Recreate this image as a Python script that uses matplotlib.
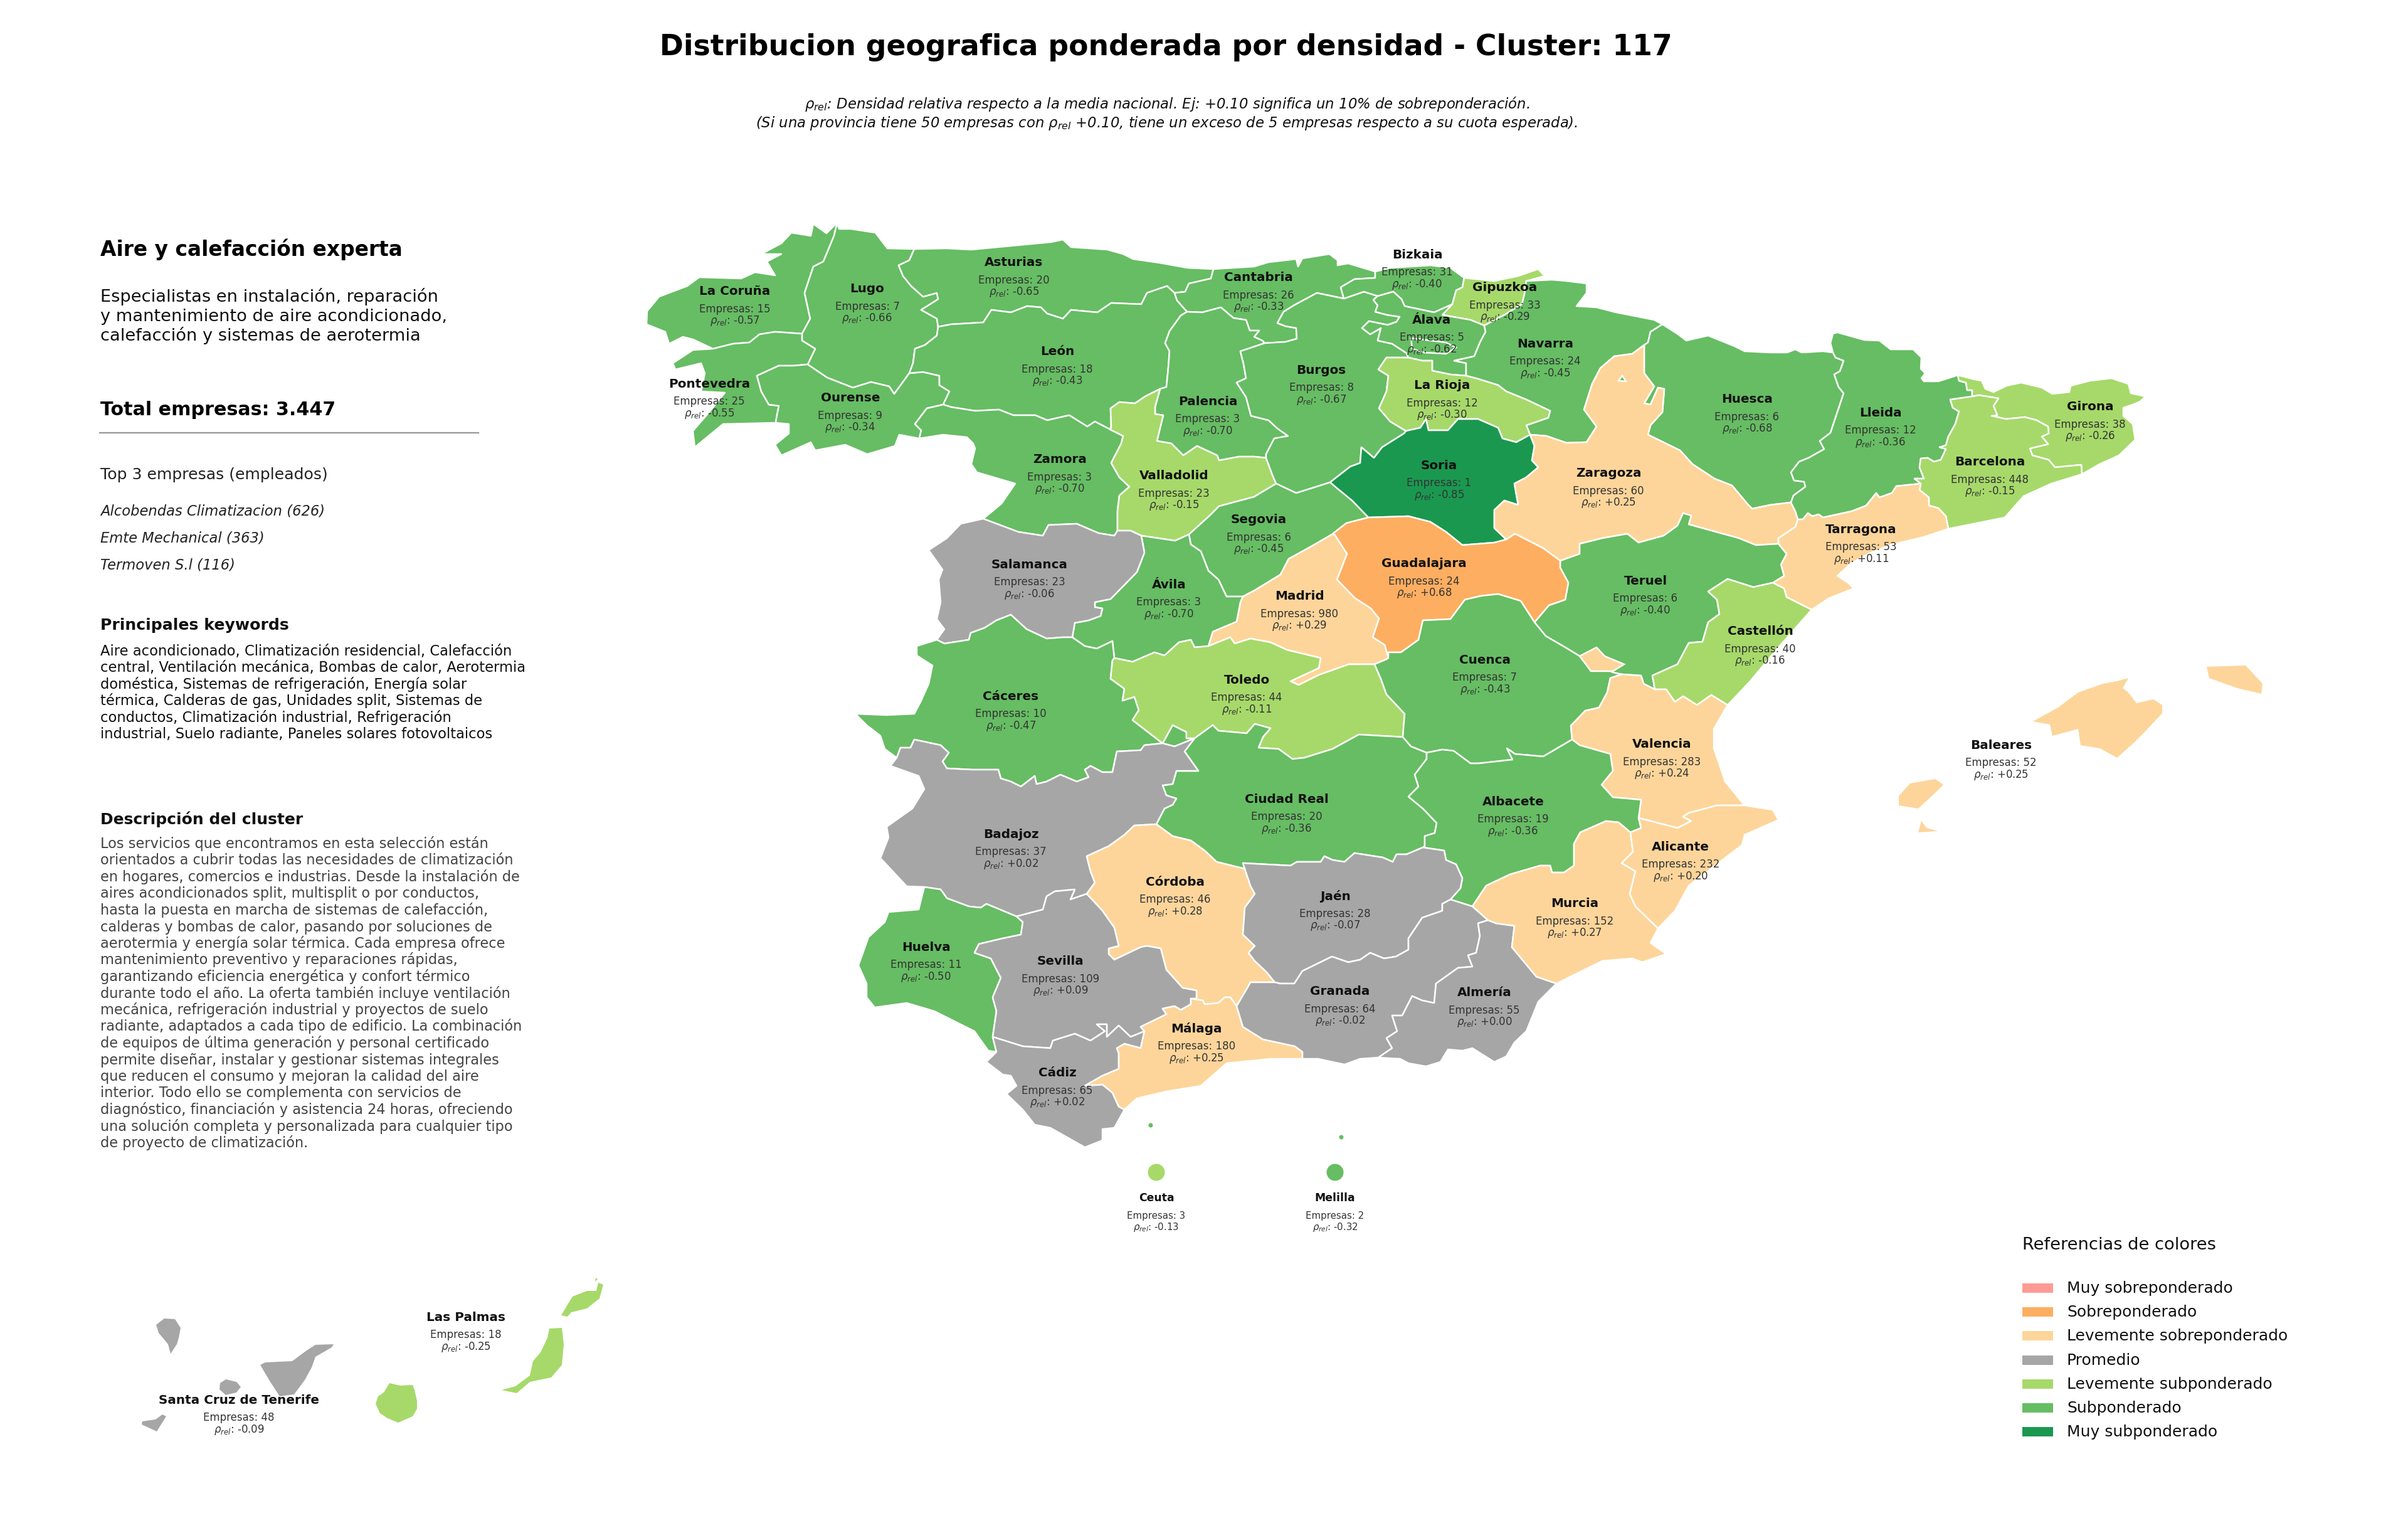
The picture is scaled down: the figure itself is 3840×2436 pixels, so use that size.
import matplotlib

matplotlib.use("Agg")
import matplotlib.pyplot as plt
from matplotlib.patches import Ellipse, Polygon, Rectangle

WIDTH, HEIGHT = 3840, 2436
DPI = 240

# province figures
PROVINCES = [
    "La Coruña", "Lugo", "Asturias", "Cantabria", "Bizkaia", "Gipuzkoa", "Álava", "Navarra",
    "León", "Pontevedra", "Ourense", "Palencia", "Burgos", "La Rioja", "Huesca", "Lleida",
    "Girona", "Barcelona", "Zamora", "Valladolid", "Soria", "Zaragoza", "Segovia",
    "Guadalajara", "Tarragona", "Salamanca", "Ávila", "Madrid", "Teruel", "Castellón",
    "Cáceres", "Toledo", "Cuenca", "Valencia", "Baleares", "Ciudad Real", "Badajoz",
    "Albacete", "Alicante", "Córdoba", "Jaén", "Murcia", "Huelva", "Sevilla", "Granada",
    "Almería", "Málaga", "Cádiz", "Las Palmas", "Santa Cruz de Tenerife", "Ceuta", "Melilla",
]
EMPRESAS = [
    15, 7, 20, 26, 31, 33, 5, 24, 18, 25, 9, 3, 8, 12, 6, 12, 38, 448, 3, 23, 1, 60, 6, 24,
    53, 23, 3, 980, 6, 40, 10, 44, 7, 283, 52, 20, 37, 19, 232, 46, 28, 152, 11, 109, 64,
    55, 180, 65, 18, 48, 3, 2,
]
RHO = [
    -0.57, -0.66, -0.65, -0.33, -0.40, -0.29, -0.62, -0.45, -0.43, -0.55, -0.34, -0.70,
    -0.67, -0.30, -0.68, -0.36, -0.26, -0.15, -0.70, -0.15, -0.85, 0.25, -0.45, 0.68, 0.11,
    -0.06, -0.70, 0.29, -0.40, -0.16, -0.47, -0.11, -0.43, 0.24, 0.25, -0.36, 0.02, -0.36,
    0.20, 0.28, -0.07, 0.27, -0.50, 0.09, -0.02, 0.00, 0.25, 0.02, -0.25, -0.09, -0.13,
    -0.32,
]
LABEL_XY = [
    (1172, 465), (1383, 461), (1617, 419), (2007, 443), (2260, 406), (2400, 459), (2283, 510),
    (2464, 548), (1686, 561), (1131, 612), (1356, 635), (1926, 640), (2107, 590), (2300, 615),
    (2786, 637), (2999, 658), (3333, 649), (3173, 737), (1690, 733), (1872, 759), (2295, 742),
    (2565, 755), (2007, 829), (2271, 899), (2968, 844), (1642, 900), (1864, 932), (2072, 951),
    (2624, 926), (2807, 1007), (1612, 1110), (1988, 1084), (2368, 1052), (2650, 1187),
    (3191, 1188), (2052, 1274), (1612, 1330), (2413, 1278), (2680, 1350), (1874, 1406),
    (2129, 1429), (2511, 1441), (1477, 1510), (1691, 1533), (2137, 1581), (2367, 1583),
    (1908, 1640), (1686, 1711), (743, 2100), (381, 2232), (1844, 1910), (2129, 1910),
]

LEGEND_LABELS = [
    "Muy sobreponderado", "Sobreponderado", "Levemente sobreponderado", "Promedio",
    "Levemente subponderado", "Subponderado", "Muy subponderado",
]
LEGEND_COLORS = ["#FF9A94", "#FDAE61", "#FDD59A", "#A6A6A6", "#A6D96A", "#66BD63", "#1A9850"]

SUBTITLE_LINES = [
    "Especialistas en instalación, reparación",
    "y mantenimiento de aire acondicionado,",
    "calefacción y sistemas de aerotermia",
]
TOP_EMPRESAS = ["Alcobendas Climatizacion (626)", "Emte Mechanical (363)", "Termoven S.l (116)"]
KEYWORD_LINES = [
    "Aire acondicionado, Climatización residencial, Calefacción",
    "central, Ventilación mecánica, Bombas de calor, Aerotermia",
    "doméstica, Sistemas de refrigeración, Energía solar",
    "térmica, Calderas de gas, Unidades split, Sistemas de",
    "conductos, Climatización industrial, Refrigeración",
    "industrial, Suelo radiante, Paneles solares fotovoltaicos",
]
DESCRIPTION_LINES = [
    "Los servicios que encontramos en esta selección están",
    "orientados a cubrir todas las necesidades de climatización",
    "en hogares, comercios e industrias. Desde la instalación de",
    "aires acondicionados split, multisplit o por conductos,",
    "hasta la puesta en marcha de sistemas de calefacción,",
    "calderas y bombas de calor, pasando por soluciones de",
    "aerotermia y energía solar térmica. Cada empresa ofrece",
    "mantenimiento preventivo y reparaciones rápidas,",
    "garantizando eficiencia energética y confort térmico",
    "durante todo el año. La oferta también incluye ventilación",
    "mecánica, refrigeración industrial y proyectos de suelo",
    "radiante, adaptados a cada tipo de edificio. La combinación",
    "de equipos de última generación y personal certificado",
    "permite diseñar, instalar y gestionar sistemas integrales",
    "que reducen el consumo y mejoran la calidad del aire",
    "interior. Todo ello se complementa con servicios de",
    "diagnóstico, financiación y asistencia 24 horas, ofreciendo",
    "una solución completa y personalizada para cualquier tipo",
    "de proyecto de climatización.",
]

# traced outlines, in pixels of the picture; shared borders are kept once
BORDERS = {
    "cor_coast": [(1335, 355), (1318, 372), (1297, 357), (1293, 376), (1262, 371), (1246, 388), (1214, 405), (1246, 405), (1223, 417), (1236, 439), (1204, 434), (1182, 444), (1115, 442), (1096, 456), (1051, 473), (1032, 496), (1031, 517), (1061, 529), (1067, 548), (1089, 537), (1105, 541), (1137, 556)],
    "cor_pon": [(1137, 556), (1169, 548), (1195, 546), (1211, 533), (1236, 529), (1279, 532)],
    "cor_lug": [(1279, 532), (1292, 508), (1283, 467), (1297, 425), (1313, 417), (1330, 376), (1335, 355)],
    "lug_coast": [(1335, 355), (1338, 365), (1357, 365), (1396, 371), (1415, 396), (1458, 397)],
    "ast_lug": [(1458, 397), (1450, 415), (1433, 423), (1440, 440), (1453, 456), (1472, 473), (1494, 467), (1496, 477), (1469, 494), (1494, 508), (1496, 521)],
    "lug_leo": [(1496, 521), (1494, 535), (1475, 550), (1459, 556), (1456, 579), (1450, 595)],
    "lug_our": [(1450, 595), (1426, 628), (1418, 616), (1389, 609), (1360, 618), (1319, 602), (1288, 581)],
    "lug_pon": [(1288, 581), (1300, 556), (1279, 543), (1279, 532)],
    "pon_our": [(1288, 581), (1265, 583), (1242, 583), (1207, 599), (1214, 624), (1226, 645), (1242, 647), (1239, 662), (1237, 674)],
    "pon_coast": [(1137, 556), (1105, 558), (1073, 579), (1077, 589), (1118, 579), (1124, 595), (1118, 624), (1156, 626), (1131, 657), (1105, 687), (1108, 713), (1153, 676), (1237, 674)],
    "our_coast": [(1237, 674), (1258, 676), (1258, 691), (1236, 709), (1246, 726), (1293, 705), (1300, 718), (1348, 709), (1383, 724), (1427, 711), (1434, 693), (1466, 699)],
    "our_leo": [(1450, 595), (1472, 593), (1498, 599), (1498, 614), (1514, 624), (1504, 645)],
    "our_zam": [(1504, 645), (1478, 651), (1459, 676), (1469, 686), (1466, 699)],
    "leo_zam": [(1504, 645), (1517, 649), (1555, 655), (1593, 653), (1616, 662), (1651, 662), (1670, 670), (1705, 662), (1734, 680), (1746, 672), (1769, 684)],
    "ast_coast": [(1458, 397), (1510, 396), (1549, 398), (1612, 392), (1676, 386), (1695, 382), (1708, 394), (1766, 398), (1791, 405), (1807, 413), (1849, 419), (1893, 427), (1935, 429)],
    "ast_can": [(1935, 429), (1931, 444), (1896, 452), (1890, 465), (1873, 467)],
    "ast_leo": [(1496, 521), (1517, 517), (1568, 514), (1581, 494), (1612, 498), (1638, 488), (1660, 490), (1670, 500), (1695, 508), (1708, 494), (1750, 498), (1772, 483), (1820, 485), (1829, 467), (1861, 456), (1873, 467)],
    "leo_can": [(1873, 467), (1877, 479), (1893, 497)],
    "leo_pal": [(1893, 497), (1883, 503), (1865, 528), (1858, 547), (1865, 560), (1863, 587), (1860, 617), (1850, 620)],
    "leo_val": [(1850, 620), (1826, 632), (1810, 643), (1785, 641), (1771, 651), (1772, 682), (1769, 684)],
    "pal_val": [(1850, 620), (1842, 649), (1842, 660), (1855, 662), (1845, 703), (1868, 707), (1887, 726), (1909, 711), (1941, 726), (1944, 734), (1976, 728), (2000, 728), (2019, 730)],
    "can_coast": [(1935, 429), (1967, 427), (2000, 425), (2023, 418), (2067, 413), (2070, 425), (2077, 412), (2120, 405), (2133, 415), (2133, 423), (2150, 420), (2193, 433)],
    "can_biz": [(2193, 433), (2193, 443), (2160, 445), (2138, 458), (2143, 476)],
    "can_pal": [(1893, 497), (1917, 498), (1947, 490), (1967, 507), (1987, 510), (1993, 527), (2008, 527), (2000, 537), (2013, 543), (2017, 547)],
    "can_bur": [(2017, 547), (2050, 545), (2068, 540), (2067, 523), (2050, 520), (2037, 515), (2047, 497), (2063, 487), (2100, 467), (2143, 476)],
    "pal_bur": [(2017, 547), (1978, 560), (1983, 580), (1987, 603), (1972, 610), (1987, 633), (1995, 663), (2023, 670), (2037, 683), (2054, 695), (2032, 699), (2019, 724), (2019, 730)],
    "val_bur": [(2019, 730), (2029, 757), (2035, 771)],
    "val_seg": [(2035, 771), (2000, 792), (1944, 807), (1928, 823), (1896, 852)],
    "val_avi": [(1896, 852), (1874, 862), (1820, 854)],
    "val_sal": [(1820, 854), (1803, 846), (1782, 846)],
    "val_zam": [(1782, 846), (1782, 815), (1785, 790), (1801, 776), (1785, 761), (1772, 738), (1788, 707), (1791, 695), (1769, 684)],
    "zam_sal": [(1782, 846), (1777, 854), (1752, 850), (1717, 835), (1672, 837), (1663, 854), (1624, 848), (1568, 827)],
    "zam_port": [(1466, 699), (1504, 693), (1542, 697), (1552, 707), (1555, 715), (1549, 740), (1558, 753), (1619, 771), (1597, 803), (1568, 827)],
    "bur_biz": [(2143, 476), (2175, 465), (2197, 472)],
    "biz_coast": [(2193, 433), (2217, 427), (2281, 423), (2313, 427), (2335, 443)],
    "biz_gip": [(2335, 443), (2332, 458), (2322, 463), (2316, 485)],
    "biz_ala": [(2197, 472), (2222, 465), (2235, 477), (2240, 488), (2287, 498), (2316, 485)],
    "gip_ala": [(2316, 485), (2300, 502), (2345, 510), (2367, 519)],
    "gip_nav": [(2367, 519), (2399, 502), (2427, 485), (2431, 469), (2434, 448)],
    "gip_coast": [(2335, 443), (2383, 448), (2421, 440), (2453, 429), (2463, 440), (2434, 448)],
    "ala_nav": [(2367, 519), (2369, 529), (2360, 546), (2351, 568), (2319, 575), (2338, 579), (2338, 599)],
    "ala_rio": [(2338, 599), (2313, 597), (2284, 591), (2284, 575), (2268, 575), (2246, 570)],
    "bur_ala": [(2197, 472), (2190, 478), (2197, 487), (2193, 497), (2212, 502), (2232, 505), (2227, 513), (2213, 518), (2183, 512), (2172, 523), (2185, 533), (2202, 523), (2197, 543), (2220, 548), (2243, 563), (2246, 570)],
    "bur_rio": [(2246, 570), (2211, 570), (2198, 589), (2214, 599), (2211, 624), (2199, 651), (2217, 672), (2242, 687)],
    "rio_nav": [(2338, 599), (2357, 604), (2389, 614), (2402, 624), (2434, 637), (2472, 655), (2469, 666), (2434, 678), (2440, 693)],
    "rio_sor": [(2242, 687), (2265, 682), (2274, 668), (2278, 686), (2309, 686), (2325, 668), (2357, 668), (2389, 682), (2396, 699), (2418, 705), (2440, 693)],
    "nav_zar": [(2440, 693), (2466, 695), (2498, 706), (2530, 705), (2546, 680), (2526, 653), (2539, 612), (2552, 587), (2574, 568), (2603, 564), (2622, 550)],
    "nav_hue": [(2622, 550), (2628, 546), (2632, 529), (2651, 517)],
    "nav_coast": [(2434, 448), (2475, 446), (2498, 448), (2530, 452), (2530, 467), (2514, 488), (2546, 490), (2577, 498), (2638, 510), (2651, 517)],
    "hue_coast": [(2651, 517), (2676, 533), (2689, 543), (2724, 535), (2766, 552), (2782, 560), (2823, 562), (2850, 562), (2863, 557), (2873, 562), (2907, 560), (2923, 562)],
    "hue_lle": [(2923, 562), (2927, 570), (2940, 575), (2934, 592), (2925, 597), (2932, 617), (2940, 627), (2929, 660), (2919, 690), (2902, 703), (2909, 716), (2884, 730), (2869, 736), (2856, 753), (2861, 766), (2877, 768), (2879, 776), (2860, 790), (2856, 801)],
    "hue_zar": [(2856, 801), (2823, 805), (2794, 811), (2788, 805), (2762, 774), (2734, 763), (2699, 740), (2679, 718), (2628, 693), (2632, 678), (2651, 657), (2654, 620), (2644, 618), (2632, 645), (2622, 643), (2638, 616), (2622, 595), (2622, 550)],
    "bur_seg": [(2035, 771), (2067, 786), (2080, 782), (2121, 769)],
    "bur_sor": [(2121, 769), (2153, 744), (2169, 738), (2171, 713), (2191, 730), (2204, 713), (2239, 691), (2242, 687)],
    "sor_zar": [(2440, 693), (2447, 711), (2443, 734), (2453, 745), (2434, 761), (2415, 771), (2421, 805), (2399, 798), (2383, 813), (2383, 842), (2402, 860)],
    "sor_gua": [(2402, 860), (2383, 865), (2332, 869), (2306, 848), (2281, 832), (2246, 823), (2182, 825)],
    "sor_seg": [(2182, 825), (2156, 798), (2134, 780), (2121, 769)],
    "seg_gua": [(2182, 825), (2147, 834), (2124, 852)],
    "seg_mad": [(2124, 852), (2093, 870), (2055, 891), (2042, 916), (2001, 941), (1982, 951)],
    "seg_avi": [(1982, 951), (1956, 951), (1943, 924), (1927, 910), (1915, 879), (1899, 868), (1896, 852)],
    "avi_sal": [(1820, 854), (1825, 881), (1813, 912), (1771, 955), (1746, 960), (1746, 968), (1758, 970), (1755, 982), (1736, 989), (1714, 993), (1710, 1016)],
    "avi_cac": [(1710, 1016), (1730, 1030), (1749, 1034), (1774, 1022), (1777, 1049)],
    "avi_tol": [(1777, 1049), (1806, 1055), (1841, 1040), (1857, 1045), (1880, 1024), (1899, 1020), (1905, 1032), (1927, 1030)],
    "avi_mad": [(1927, 1030), (1934, 1007), (1972, 991), (1978, 960), (1982, 951)],
    "sal_cac": [(1710, 1016), (1695, 1016), (1669, 1018), (1637, 1003), (1612, 980), (1589, 989), (1570, 1001), (1548, 1009), (1545, 1020), (1519, 1024), (1506, 1026), (1494, 1020)],
    "sal_port": [(1494, 1020), (1506, 1003), (1494, 987), (1500, 960), (1497, 924), (1503, 908), (1481, 877), (1510, 858), (1532, 835), (1568, 827)],
    "mad_tol": [(1927, 1030), (1962, 1016), (1969, 1026), (1994, 1018), (2026, 1024), (2052, 1036), (2106, 1049), (2103, 1065), (2058, 1086), (2071, 1092), (2103, 1076), (2151, 1059), (2192, 1059)],
    "mad_cue": [(2192, 1059), (2211, 1051), (2214, 1049)],
    "mad_gua": [(2214, 1049), (2208, 1028), (2189, 1016), (2199, 986), (2186, 970), (2160, 953), (2132, 924), (2148, 883), (2128, 852), (2124, 852)],
    "gua_cue": [(2214, 1049), (2214, 1040), (2234, 1040), (2262, 1020), (2269, 989), (2313, 987), (2336, 956), (2362, 950), (2389, 947), (2425, 958), (2447, 992)],
    "gua_ter": [(2447, 992), (2470, 965), (2496, 956), (2501, 929), (2488, 905), (2488, 894)],
    "gua_zar": [(2488, 894), (2461, 874), (2416, 851), (2402, 860)],
    "zar_ter": [(2488, 894), (2519, 883), (2519, 867), (2555, 858), (2595, 851), (2613, 865), (2653, 854), (2675, 838), (2684, 818), (2697, 822), (2693, 836), (2773, 858), (2800, 869), (2836, 867)],
    "zar_tar": [(2836, 867), (2836, 858), (2863, 840), (2867, 828)],
    "zar_lle": [(2856, 801), (2863, 815), (2867, 828)],
    "ter_tar": [(2836, 867), (2849, 883), (2840, 900), (2845, 918), (2827, 929)],
    "tar_cas": [(2827, 929), (2845, 938), (2849, 952), (2889, 972)],
    "tar_coast": [(2889, 972), (2916, 954), (2956, 938), (2947, 929), (2930, 918), (2952, 898), (2979, 883), (3014, 869), (3068, 856), (3107, 843)],
    "tar_bar": [(3107, 843), (3103, 823), (3091, 810), (3076, 806), (3076, 793), (3061, 781), (3063, 771)],
    "tar_lle": [(3063, 771), (3024, 775), (3017, 786), (2997, 793), (2992, 786), (2976, 806), (2953, 815), (2907, 825), (2900, 820), (2890, 823), (2883, 818), (2875, 828), (2867, 828)],
    "lle_coast": [(2923, 562), (2919, 547), (2923, 532), (2930, 530), (2973, 542), (2997, 543), (3015, 557), (3051, 557), (3064, 570), (3063, 588), (3070, 595), (3064, 603), (3068, 608), (3091, 608), (3110, 602), (3122, 598)],
    "lle_gir": [(3122, 598), (3124, 607), (3135, 610), (3137, 622), (3145, 622), (3145, 632)],
    "lle_bar": [(3145, 632), (3110, 637), (3114, 650), (3124, 656), (3118, 676), (3107, 696), (3103, 710), (3093, 713), (3103, 716), (3095, 733), (3084, 736), (3074, 730), (3063, 731), (3061, 745), (3068, 763), (3053, 763), (3063, 771)],
    "bar_gir": [(3145, 632), (3156, 630), (3187, 635), (3179, 647), (3185, 662), (3176, 663), (3199, 668), (3229, 665), (3248, 670), (3266, 680), (3267, 691), (3256, 696), (3266, 708), (3237, 715), (3241, 726), (3267, 733), (3277, 745), (3319, 741), (3320, 756)],
    "bar_coast": [(3320, 756), (3271, 771), (3227, 791), (3197, 825), (3107, 843)],
    "gir_coast": [(3122, 598), (3149, 605), (3160, 607), (3166, 620), (3179, 625), (3200, 615), (3223, 610), (3256, 618), (3273, 628), (3300, 625), (3302, 615), (3333, 607), (3367, 603), (3394, 612), (3398, 627), (3421, 632), (3413, 640), (3401, 645), (3386, 650), (3386, 663), (3401, 676), (3405, 701), (3379, 726), (3348, 740), (3320, 756)],
    "ter_cas": [(2827, 929), (2796, 936), (2755, 923), (2724, 943), (2738, 956), (2742, 979), (2724, 992), (2715, 1023), (2693, 1025), (2675, 1059), (2635, 1077), (2639, 1099)],
    "ter_val": [(2639, 1099), (2621, 1090), (2617, 1077), (2586, 1075)],
    "ter_cue": [(2447, 992), (2465, 1014), (2496, 1032), (2519, 1046), (2572, 1072), (2586, 1075)],
    "cue_val": [(2586, 1075), (2568, 1081), (2563, 1104), (2550, 1128), (2528, 1133), (2505, 1157), (2507, 1179)],
    "cue_alb": [(2507, 1179), (2461, 1206), (2416, 1202), (2403, 1193), (2412, 1211), (2358, 1217), (2345, 1217), (2318, 1197), (2300, 1195), (2275, 1200)],
    "cue_tol": [(2192, 1059), (2202, 1082), (2211, 1107), (2240, 1138), (2237, 1175)],
    "cue_cr": [(2237, 1175), (2250, 1190), (2275, 1200)],
    "tol_cr": [(2237, 1175), (2167, 1171), (2125, 1194), (2080, 1208), (2061, 1210), (2039, 1194), (2007, 1192), (2014, 1175), (2026, 1161), (2001, 1154), (1988, 1169), (1943, 1165), (1934, 1156), (1905, 1177)],
    "tol_cac": [(1777, 1049), (1774, 1053), (1771, 1082), (1793, 1098), (1790, 1117), (1809, 1111), (1816, 1132), (1806, 1148), (1854, 1185), (1870, 1156), (1892, 1167), (1892, 1177), (1905, 1177)],
    "cac_bad": [(1905, 1177), (1873, 1190), (1854, 1185), (1825, 1188), (1819, 1196), (1781, 1198), (1774, 1231), (1758, 1231), (1739, 1221), (1730, 1227), (1736, 1239), (1717, 1246), (1691, 1235), (1669, 1246), (1653, 1250), (1650, 1237), (1628, 1254), (1612, 1246), (1596, 1241), (1592, 1227), (1551, 1227), (1510, 1225), (1503, 1214), (1513, 1200), (1500, 1188), (1458, 1179), (1452, 1192), (1436, 1192), (1430, 1208)],
    "cac_port": [(1494, 1020), (1462, 1030), (1462, 1045), (1487, 1061), (1481, 1090), (1468, 1119), (1458, 1138), (1414, 1140), (1364, 1138), (1382, 1156), (1404, 1173), (1411, 1194), (1430, 1208)],
    "bad_port": [(1430, 1208), (1420, 1221), (1465, 1237), (1474, 1258), (1455, 1289), (1414, 1318), (1417, 1335), (1404, 1368), (1446, 1413), (1474, 1414)],
    "bad_cr": [(1905, 1177), (1889, 1198), (1911, 1229), (1876, 1229), (1870, 1250), (1854, 1252), (1860, 1268), (1876, 1273), (1870, 1283), (1857, 1289), (1844, 1314)],
    "bad_cor": [(1844, 1314), (1809, 1316), (1793, 1331), (1768, 1349), (1733, 1365), (1739, 1389), (1746, 1407), (1733, 1425)],
    "bad_sev": [(1733, 1425), (1707, 1434), (1714, 1418), (1682, 1421), (1669, 1429), (1663, 1450), (1621, 1461)],
    "bad_hue": [(1621, 1461), (1573, 1441), (1564, 1447), (1545, 1445), (1510, 1432), (1500, 1418), (1474, 1414)],
    "hue_port": [(1474, 1414), (1465, 1450), (1417, 1454), (1411, 1470), (1385, 1494), (1369, 1539), (1382, 1568), (1382, 1590), (1395, 1606), (1446, 1599), (1490, 1612), (1554, 1644), (1576, 1675), (1589, 1677)],
    "hue_sev": [(1621, 1461), (1631, 1470), (1628, 1490), (1599, 1496), (1561, 1505), (1554, 1519), (1580, 1528), (1596, 1559), (1583, 1590), (1589, 1612), (1583, 1653)],
    "hue_cad": [(1583, 1653), (1589, 1677)],
    "sev_cad": [(1583, 1653), (1631, 1668), (1675, 1671), (1679, 1659), (1714, 1648), (1739, 1659), (1762, 1644), (1749, 1633), (1765, 1633), (1765, 1653), (1784, 1635), (1803, 1653), (1825, 1644)],
    "sev_mal": [(1825, 1644), (1819, 1637), (1860, 1617), (1854, 1608), (1873, 1604), (1883, 1610), (1899, 1601), (1899, 1592)],
    "sev_cor": [(1733, 1425), (1758, 1452), (1777, 1479), (1784, 1508), (1768, 1512), (1768, 1521), (1777, 1530), (1819, 1510), (1829, 1508), (1851, 1512), (1860, 1546), (1886, 1575), (1908, 1579), (1908, 1592), (1899, 1592)],
    "cor_mal": [(1899, 1592), (1918, 1595), (1921, 1601), (1943, 1599), (1953, 1590), (1962, 1590), (1972, 1604)],
    "cor_gra": [(1972, 1604), (1988, 1577), (1994, 1566), (2033, 1566)],
    "cor_jae": [(2033, 1566), (2020, 1550), (2001, 1532), (1991, 1519), (2001, 1508), (1982, 1490), (1985, 1447), (2001, 1425), (1994, 1412), (1985, 1385)],
    "cor_cr": [(1844, 1314), (1870, 1333), (1899, 1340), (1921, 1356), (1940, 1374), (1985, 1385)],
    "jae_cr": [(1985, 1385), (1982, 1376), (2058, 1380), (2068, 1374), (2106, 1374), (2112, 1365), (2125, 1371), (2144, 1374), (2160, 1360), (2205, 1367), (2221, 1374), (2227, 1362), (2243, 1362), (2269, 1351)],
    "jae_alb": [(2269, 1351), (2303, 1356), (2306, 1371), (2322, 1378), (2332, 1400), (2329, 1416), (2313, 1434)],
    "alb_gra": [(2313, 1434), (2348, 1445)],
    "jae_gra": [(2313, 1434), (2300, 1441), (2300, 1452), (2268, 1463), (2246, 1496), (2246, 1514), (2226, 1525), (2207, 1528), (2185, 1519), (2169, 1530), (2150, 1534), (2124, 1525), (2077, 1548), (2064, 1568), (2041, 1568), (2033, 1566)],
    "gra_mal": [(1972, 1604), (1982, 1637), (2014, 1657), (2065, 1668), (2077, 1677), (2077, 1688)],
    "mal_coast": [(2077, 1688), (2026, 1688), (1956, 1695), (1915, 1731), (1860, 1740), (1813, 1751), (1793, 1769)],
    "mal_cad": [(1793, 1769), (1784, 1764), (1774, 1742), (1758, 1729), (1730, 1731), (1758, 1715), (1784, 1704), (1784, 1679), (1781, 1671), (1793, 1664), (1819, 1671), (1825, 1644)],
    "cad_coast": [(1589, 1677), (1573, 1693), (1599, 1713), (1612, 1715), (1621, 1731), (1605, 1744), (1631, 1769), (1650, 1793), (1675, 1798), (1730, 1829), (1758, 1818), (1758, 1800), (1777, 1798), (1793, 1769)],
    "gra_coast": [(2077, 1688), (2102, 1688), (2144, 1697), (2169, 1688), (2198, 1686)],
    "gra_alm": [(2198, 1686), (2220, 1671), (2211, 1655), (2228, 1644), (2220, 1619), (2236, 1619), (2252, 1588), (2268, 1595), (2287, 1599), (2290, 1568), (2325, 1543), (2348, 1541), (2341, 1523), (2354, 1519), (2360, 1492), (2357, 1472), (2373, 1467)],
    "gra_mur": [(2373, 1467), (2348, 1445)],
    "alm_mur": [(2373, 1467), (2386, 1472), (2415, 1476), (2411, 1510), (2450, 1557), (2482, 1568)],
    "alm_coast": [(2482, 1568), (2453, 1597), (2434, 1644), (2415, 1662), (2402, 1684), (2383, 1693), (2348, 1671), (2332, 1675), (2309, 1673), (2297, 1693), (2274, 1700), (2246, 1695), (2233, 1688), (2198, 1686)],
    "mur_alb": [(2348, 1445), (2370, 1412), (2408, 1394), (2456, 1380), (2472, 1380), (2475, 1391), (2494, 1391), (2510, 1380), (2510, 1345), (2520, 1327), (2561, 1309), (2581, 1311), (2600, 1327)],
    "alb_ali": [(2600, 1327), (2617, 1320), (2613, 1304)],
    "alb_val": [(2613, 1304), (2617, 1275), (2572, 1271), (2554, 1251), (2572, 1229), (2568, 1202), (2519, 1188), (2507, 1179)],
    "val_ali": [(2613, 1304), (2675, 1320), (2697, 1309), (2684, 1302), (2693, 1296), (2738, 1284), (2782, 1284)],
    "val_coast": [(2782, 1284), (2751, 1246), (2733, 1193), (2733, 1162), (2755, 1124)],
    "val_cas": [(2755, 1124), (2729, 1108), (2706, 1124), (2684, 1110), (2671, 1119), (2657, 1099), (2639, 1099)],
    "cas_coast": [(2755, 1124), (2791, 1086), (2836, 1032), (2889, 972)],
    "ali_coast": [(2782, 1284), (2827, 1291), (2836, 1307), (2782, 1331), (2778, 1347), (2693, 1412), (2671, 1452), (2644, 1480)],
    "ali_mur": [(2600, 1327), (2604, 1358), (2586, 1376), (2608, 1389), (2599, 1425), (2608, 1445), (2644, 1480)],
    "mur_coast": [(2644, 1480), (2632, 1503), (2657, 1521), (2619, 1534), (2603, 1528), (2555, 1532), (2514, 1552), (2482, 1568)],
    "alb_cr": [(2275, 1200), (2275, 1210), (2256, 1235), (2262, 1254), (2246, 1270), (2269, 1289), (2291, 1312), (2288, 1328), (2272, 1333), (2272, 1349), (2269, 1351)],
}

RINGS = {
    "La Coruña": ["cor_coast", "cor_pon", "cor_lug"],
    "Lugo": ["lug_coast", "ast_lug", "lug_leo", "lug_our", "lug_pon", "cor_lug"],
    "Pontevedra": ["pon_coast", "pon_our", "lug_pon", "cor_pon"],
    "Ourense": ["our_coast", "our_zam", "our_leo", "lug_our", "pon_our"],
    "Asturias": ["ast_coast", "ast_can", "ast_leo", "ast_lug"],
    "León": ["ast_leo", "leo_can", "leo_pal", "leo_val", "leo_zam", "our_leo", "lug_leo"],
    "Zamora": ["leo_zam", "val_zam", "zam_sal", "zam_port", "our_zam"],
    "Cantabria": ["can_coast", "can_biz", "can_bur", "can_pal", "leo_can", "ast_can"],
    "Palencia": ["can_pal", "pal_bur", "pal_val", "leo_pal"],
    "Valladolid": ["pal_val", "val_bur", "val_seg", "val_avi", "val_sal", "val_zam", "leo_val"],
    "Burgos": ["can_bur", "bur_biz", "bur_ala", "bur_rio", "bur_sor", "bur_seg", "val_bur", "pal_bur"],
    "Bizkaia": ["biz_coast", "biz_gip", "biz_ala", "bur_biz", "can_biz"],
    "Gipuzkoa": ["gip_coast", "gip_nav", "gip_ala", "biz_gip"],
    "Álava": ["biz_ala", "gip_ala", "ala_nav", "ala_rio", "bur_ala"],
    "Navarra": ["nav_coast", "nav_hue", "nav_zar", "rio_nav", "ala_nav", "gip_nav"],
    "La Rioja": ["ala_rio", "bur_rio", "rio_sor", "rio_nav"],
    "Soria": ["rio_sor", "sor_zar", "sor_gua", "sor_seg", "bur_sor"],
    "Segovia": ["bur_seg", "sor_seg", "seg_gua", "seg_mad", "seg_avi", "val_seg"],
    "Huesca": ["hue_coast", "hue_lle", "hue_zar", "nav_hue"],
    "Zaragoza": ["nav_zar", "hue_zar", "zar_lle", "zar_tar", "zar_ter", "gua_zar", "sor_zar"],
    "Lleida": ["lle_coast", "lle_gir", "lle_bar", "tar_lle", "zar_lle", "hue_lle"],
    "Girona": ["gir_coast", "bar_gir", "lle_gir"],
    "Barcelona": ["bar_gir", "bar_coast", "tar_bar", "lle_bar"],
    "Tarragona": ["tar_lle", "zar_tar", "ter_tar", "tar_cas", "tar_coast", "tar_bar"],
    "Teruel": ["zar_ter", "ter_tar", "ter_cas", "ter_val", "ter_cue", "gua_ter"],
    "Castellón": ["ter_cas", "tar_cas", "cas_coast", "val_cas"],
    "Guadalajara": ["sor_gua", "seg_gua", "mad_gua", "gua_cue", "gua_ter", "gua_zar"],
    "Madrid": ["seg_mad", "avi_mad", "mad_tol", "mad_cue", "mad_gua"],
    "Ávila": ["seg_avi", "val_avi", "avi_sal", "avi_cac", "avi_tol", "avi_mad"],
    "Salamanca": ["zam_sal", "sal_port", "sal_cac", "avi_sal", "val_sal"],
    "Cáceres": ["sal_cac", "cac_port", "cac_bad", "tol_cac", "avi_cac"],
    "Toledo": ["avi_tol", "mad_tol", "cue_tol", "tol_cr", "tol_cac"],
    "Cuenca": ["gua_cue", "ter_cue", "cue_val", "cue_alb", "cue_cr", "cue_tol", "mad_cue"],
    "Valencia": ["val_ali", "val_coast", "val_cas", "ter_val", "cue_val", "alb_val"],
    "Ciudad Real": ["tol_cr", "cue_cr", "alb_cr", "jae_cr", "cor_cr", "bad_cr"],
    "Badajoz": ["cac_bad", "bad_port", "bad_hue", "bad_sev", "bad_cor", "bad_cr"],
    "Albacete": ["cue_alb", "alb_cr", "jae_alb", "alb_gra", "mur_alb", "alb_ali", "alb_val"],
    "Córdoba": ["bad_cor", "cor_cr", "cor_jae", "cor_gra", "cor_mal", "sev_cor"],
    "Jaén": ["jae_cr", "jae_alb", "jae_gra", "cor_jae"],
    "Huelva": ["bad_hue", "hue_sev", "hue_cad", "hue_port"],
    "Sevilla": ["bad_sev", "sev_cor", "sev_mal", "sev_cad", "hue_sev"],
    "Cádiz": ["sev_cad", "mal_cad", "cad_coast", "hue_cad"],
    "Málaga": ["cor_mal", "gra_mal", "mal_coast", "mal_cad", "sev_mal"],
    "Granada": ["cor_gra", "jae_gra", "alb_gra", "gra_mur", "gra_alm", "gra_coast", "gra_mal"],
    "Almería": ["gra_alm", "alm_mur", "alm_coast"],
    "Murcia": ["mur_alb", "ali_mur", "mur_coast", "alm_mur", "gra_mur"],
    "Alicante": ["val_ali", "ali_coast", "ali_mur", "alb_ali"],
}

# islands and enclaves, drawn on top of the rings
EXTRA_SHAPES = {
    "Valencia": [[(2519, 1046), (2546, 1032), (2559, 1046), (2590, 1059), (2572, 1070), (2537, 1070)]],
    "Navarra": [[(2587, 599), (2593, 608), (2581, 607)]],
    "Burgos": [[(2250, 539), (2306, 546), (2322, 554), (2306, 564), (2271, 562), (2252, 556)]],
    "Baleares": [
        [(3394, 1081), (3385, 1097), (3394, 1104), (3407, 1121), (3434, 1115), (3448, 1124), (3448, 1137), (3421, 1166), (3403, 1184), (3376, 1208), (3349, 1193), (3318, 1188), (3314, 1162), (3273, 1173), (3269, 1155), (3242, 1150), (3282, 1128), (3314, 1104), (3354, 1090), (3376, 1086)],
        [(3519, 1063), (3581, 1061), (3608, 1090), (3606, 1106), (3568, 1097), (3523, 1081)],
        [(3086, 1242), (3099, 1251), (3086, 1264), (3059, 1289), (3028, 1284), (3028, 1269), (3046, 1249)],
        [(3064, 1309), (3072, 1320), (3090, 1325), (3059, 1327)],
    ],
    "Santa Cruz de Tenerife": [
        [(262, 2102), (279, 2103), (288, 2117), (285, 2133), (282, 2143), (272, 2158), (268, 2143), (253, 2125), (249, 2112)],
        [(532, 2143), (529, 2148), (503, 2163), (497, 2180), (486, 2200), (469, 2223), (446, 2226), (431, 2203), (415, 2176), (423, 2172), (466, 2170), (489, 2153), (503, 2144)],
        [(360, 2199), (377, 2203), (384, 2211), (377, 2220), (360, 2224), (350, 2215), (351, 2205)],
        [(259, 2255), (265, 2258), (250, 2282), (226, 2271), (227, 2266), (248, 2263)],
    ],
    "Las Palmas": [
        [(621, 2205), (638, 2209), (658, 2208), (661, 2216), (665, 2233), (665, 2246), (658, 2258), (635, 2268), (618, 2261), (606, 2253), (599, 2238), (603, 2226), (612, 2220)],
        [(876, 2118), (896, 2117), (899, 2143), (896, 2176), (879, 2196), (845, 2203), (824, 2221), (800, 2216), (822, 2210), (845, 2193), (850, 2170), (862, 2156), (873, 2133)],
        [(954, 2045), (962, 2048), (956, 2070), (936, 2086), (911, 2092), (905, 2099), (895, 2097), (905, 2080), (913, 2067), (936, 2058), (951, 2058)],
        [(950, 2037), (953, 2040), (949, 2043)],
    ],
}

CITY_MARKERS = {"Ceuta": (1844, 1869), "Melilla": (2129, 1869)}
CITY_SPECKS = {"Ceuta": (1835, 1794), "Melilla": (2139, 1813)}


def rho_color(rho: float) -> str:
    if rho > 1.0:
        return LEGEND_COLORS[0]
    if rho > 0.5:
        return LEGEND_COLORS[1]
    if rho > 0.10:
        return LEGEND_COLORS[2]
    if rho >= -0.10:
        return LEGEND_COLORS[3]
    if rho >= -0.30:
        return LEGEND_COLORS[4]
    if rho >= -0.80:
        return LEGEND_COLORS[5]
    return LEGEND_COLORS[6]


def build_ring(keys: list[str]) -> list[tuple[int, int]]:
    first = BORDERS[keys[0]]
    second = BORDERS[keys[1]]
    if first[-1] not in (second[0], second[-1]):
        first = first[::-1]
    points = list(first)
    for key in keys[1:]:
        arc = BORDERS[key]
        if arc[0] != points[-1]:
            arc = arc[::-1]
        if arc[0] != points[-1]:
            raise ValueError(f"{key} does not join {points[-1]}")
        points.extend(arc[1:])
    return points


def draw_map(ax) -> None:
    colors = {name: rho_color(rho) for name, rho in zip(PROVINCES, RHO)}
    style = {"edgecolor": "white", "linewidth": 0.75, "joinstyle": "round"}
    for name, keys in RINGS.items():
        ax.add_patch(Polygon(build_ring(keys), closed=True, facecolor=colors[name], **style))
    for name, shapes in EXTRA_SHAPES.items():
        for shape in shapes:
            edge = "white" if name in RINGS else "none"
            ax.add_patch(Polygon(shape, closed=True, facecolor=colors[name], edgecolor=edge, linewidth=0.75))
    for name, xy in CITY_MARKERS.items():
        ax.add_patch(Ellipse(xy, 27, 27, facecolor=colors[name], edgecolor="none"))
    for name, xy in CITY_SPECKS.items():
        ax.add_patch(Ellipse(xy, 7, 7, facecolor=LEGEND_COLORS[5], edgecolor="none"))


def draw_labels(ax) -> None:
    for name, count, rho, (x, y) in zip(PROVINCES, EMPRESAS, RHO, LABEL_XY):
        small = name in CITY_MARKERS
        name_size, body_size = (5.2, 4.5) if small else (6.0, 5.0)
        ax.text(x, y, name, ha="center", va="center", fontsize=name_size, fontweight="bold", color="#111111")
        ax.text(x, y + 28, f"Empresas: {count}", ha="center", va="center", fontsize=body_size, color="#333333")
        ax.text(x, y + 47, f"$\\rho_{{rel}}$: {rho:+.2f}", ha="center", va="center", fontsize=body_size, color="#333333")


def draw_header(ax) -> None:
    ax.text(1859, 75, "Distribucion geografica ponderada por densidad - Cluster: 117",
            ha="center", va="center", fontsize=13.7, fontweight="bold", color="black")
    ax.text(1861, 166, "$\\rho_{rel}$: Densidad relativa respecto a la media nacional. Ej: +0.10 significa un 10% de sobreponderación.",
            ha="center", va="center", fontsize=6.82, style="italic", color="#111111")
    ax.text(1861, 196, "(Si una provincia tiene 50 empresas con $\\rho_{rel}$ +0.10, tiene un exceso de 5 empresas respecto a su cuota esperada).",
            ha="center", va="center", fontsize=6.82, style="italic", color="#111111")


def draw_side_panel(ax) -> None:
    left = 160
    ax.text(left, 408, "Aire y calefacción experta", fontsize=9.85, fontweight="bold", color="black")
    for i, line in enumerate(SUBTITLE_LINES):
        ax.text(left, 481 + i * 31, line, fontsize=8.2, color="#111111")
    ax.text(left, 662, "Total empresas: 3.447", fontsize=9.06, fontweight="bold", color="black")
    ax.plot([159, 763], [690, 690], color="#999999", linewidth=0.7)
    ax.text(left, 764, "Top 3 empresas (empleados)", fontsize=7.55, color="#222222")
    for i, line in enumerate(TOP_EMPRESAS):
        ax.text(left, 822 + i * 42.5, line, fontsize=6.8, style="italic", color="#222222")
    ax.text(left, 1004, "Principales keywords", fontsize=7.55, fontweight="bold", color="#111111")
    for i, line in enumerate(KEYWORD_LINES):
        ax.text(left, 1045 + i * 26.4, line, fontsize=6.8, color="#111111")
    ax.text(left, 1314, "Descripción del cluster", fontsize=7.5, fontweight="bold", color="#111111")
    for i, line in enumerate(DESCRIPTION_LINES):
        ax.text(left, 1352 + i * 26.5, line, fontsize=6.75, color="#444444")


def draw_legend(ax) -> None:
    ax.text(3225, 1992, "Referencias de colores", fontsize=8.2, color="#111111")
    for i, (label, color) in enumerate(zip(LEGEND_LABELS, LEGEND_COLORS)):
        y = 2054 + i * 38.2
        ax.add_patch(Rectangle((3225, y - 8), 49, 15, facecolor=color, edgecolor="none"))
        ax.text(3296, y, label, va="center", fontsize=7.52, color="#111111")


def main() -> None:
    fig = plt.figure(figsize=(WIDTH / DPI, HEIGHT / DPI), dpi=DPI)
    ax = fig.add_axes([0, 0, 1, 1])
    ax.set_xlim(0, WIDTH)
    ax.set_ylim(HEIGHT, 0)
    ax.axis("off")
    draw_map(ax)
    draw_labels(ax)
    draw_header(ax)
    draw_side_panel(ax)
    draw_legend(ax)
    fig.savefig("out.png", dpi=DPI)
    plt.close(fig)


if __name__ == "__main__":
    main()
